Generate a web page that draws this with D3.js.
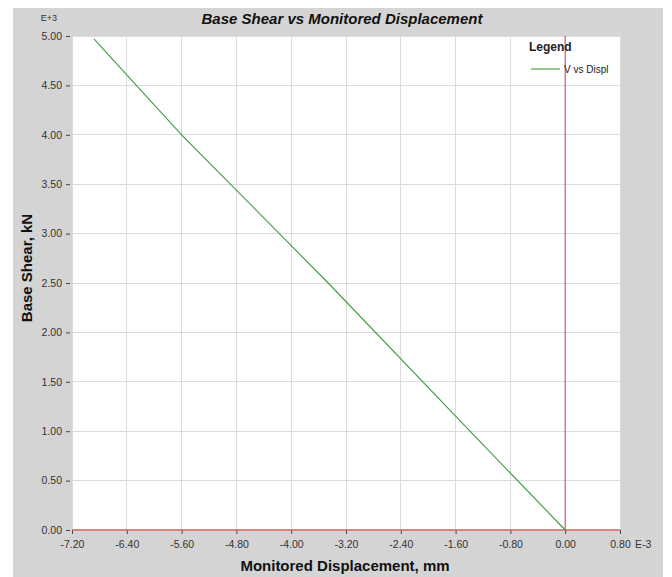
<!DOCTYPE html>
<html><head><meta charset="utf-8">
<script src="https://cdn.jsdelivr.net/npm/d3@7"></script>
<style>body{margin:0;background:#fff;}svg{display:block;font-family:"Liberation Sans",Arial,sans-serif;}</style>
</head><body>
<svg id="c" width="672" height="577"></svg>
<script>
// Data (displacement in E-3 mm, base shear in E+3 kN)
const dispValues  = [0.00, -1.39, -3.46, -5.60, -6.88];
const shearValues = [0.00, 1.00, 2.50, 4.00, 4.97];
const xTickValues = [-7.2, -6.4, -5.6, -4.8, -4.0, -3.2, -2.4, -1.6, -0.8, 0.0, 0.8];
const xTickLabels = ["-7.20","-6.40","-5.60","-4.80","-4.00","-3.20","-2.40","-1.60","-0.80","0.00","0.80"];
const yTickValues = [0, 0.5, 1, 1.5, 2, 2.5, 3, 3.5, 4, 4.5, 5];
const yTickLabels = ["0.00","0.50","1.00","1.50","2.00","2.50","3.00","3.50","4.00","4.50","5.00"];
const seriesName = "V vs Displ";

const svg = d3.select("#c");
const L = 72, R = 620, T = 36, B = 530;
const x = d3.scaleLinear().domain([-7.2, 0.8]).range([L, R]);
const y = d3.scaleLinear().domain([0, 5]).range([B, T]);

svg.append("rect").attr("x", 13).attr("y", 8).attr("width", 650).attr("height", 569).attr("fill", "#d4d4d4");
svg.append("rect").attr("x", L).attr("y", T).attr("width", R - L).attr("height", B - T).attr("fill", "#fff");

// gridlines
svg.append("g").selectAll("line").data(xTickValues).join("line")
  .attr("x1", d => x(d)).attr("x2", d => x(d)).attr("y1", T).attr("y2", B)
  .attr("stroke", "#dcdcdc").attr("stroke-width", 1).attr("shape-rendering", "crispEdges");
svg.append("g").selectAll("line").data(yTickValues).join("line")
  .attr("x1", L).attr("x2", R).attr("y1", d => y(d)).attr("y2", d => y(d))
  .attr("stroke", "#dcdcdc").attr("stroke-width", 1).attr("shape-rendering", "crispEdges");

// axes
const xAxis = d3.axisBottom(x).tickValues(xTickValues).tickSize(4).tickPadding(7)
  .tickFormat((d, i) => xTickLabels[i]);
const gx = svg.append("g").attr("transform", `translate(0,${B})`).call(xAxis);
gx.select(".domain").remove();
gx.selectAll(".tick line").attr("stroke", "#444");
gx.selectAll(".tick text").attr("fill", "#333").style("font-size", "10.5px").style("font-family", "Liberation Sans, Arial");
svg.append("text").attr("x", x(0.8) + 15).attr("y", B + 11).attr("dy", "0.71em").attr("text-anchor", "start")
  .attr("fill", "#333").style("font-size", "10.5px").text("E-3");

const yAxis = d3.axisLeft(y).tickValues(yTickValues).tickSize(4).tickPadding(4)
  .tickFormat((d, i) => yTickLabels[i]);
const gy = svg.append("g").attr("transform", `translate(${L - 2},0)`).call(yAxis);
gy.select(".domain").remove();
gy.selectAll(".tick line").attr("stroke", "#444");
gy.selectAll(".tick text").attr("fill", "#333").style("font-size", "10.5px").style("font-family", "Liberation Sans, Arial");
svg.append("text").attr("x", 49).attr("y", 21).attr("text-anchor", "middle")
  .attr("fill", "#333").style("font-size", "9px").text("E+3");

// red zero lines
svg.append("line").attr("x1", L).attr("x2", R).attr("y1", y(0)).attr("y2", y(0))
  .attr("stroke", "#d46060").attr("stroke-width", 1.5);
svg.append("line").attr("x1", x(0)).attr("x2", x(0)).attr("y1", T).attr("y2", B)
  .attr("stroke", "#d46060").attr("stroke-width", 1.2);

// series
const pts = dispValues.map((d, i) => [d, shearValues[i]]);
svg.append("path").datum(pts)
  .attr("d", d3.line().x(d => x(d[0])).y(d => y(d[1])))
  .attr("fill", "none").attr("stroke", "#3f9a3f").attr("stroke-width", 1.1);

// legend
svg.append("text").attr("x", 529).attr("y", 51).attr("fill", "#222")
  .style("font-size", "12px").style("font-weight", "bold").text("Legend");
svg.append("line").attr("x1", 531).attr("x2", 560).attr("y1", 69).attr("y2", 69)
  .attr("stroke", "#3f9a3f").attr("stroke-width", 1.1);
svg.append("text").attr("x", 564).attr("y", 72.5).attr("fill", "#222")
  .style("font-size", "10px").text(seriesName);

// titles
svg.append("text").attr("x", 342).attr("y", 24).attr("text-anchor", "middle").attr("fill", "#111")
  .style("font-size", "15px").style("font-weight", "bold").style("font-style", "italic")
  .text("Base Shear vs Monitored Displacement");
svg.append("text").attr("x", 345).attr("y", 571).attr("text-anchor", "middle").attr("fill", "#111")
  .style("font-size", "15px").style("font-weight", "bold").text("Monitored Displacement, mm");
svg.append("text").attr("transform", "translate(32,268) rotate(-90)").attr("text-anchor", "middle").attr("fill", "#111")
  .style("font-size", "15px").style("font-weight", "bold").text("Base Shear, kN");
</script>
</body></html>
